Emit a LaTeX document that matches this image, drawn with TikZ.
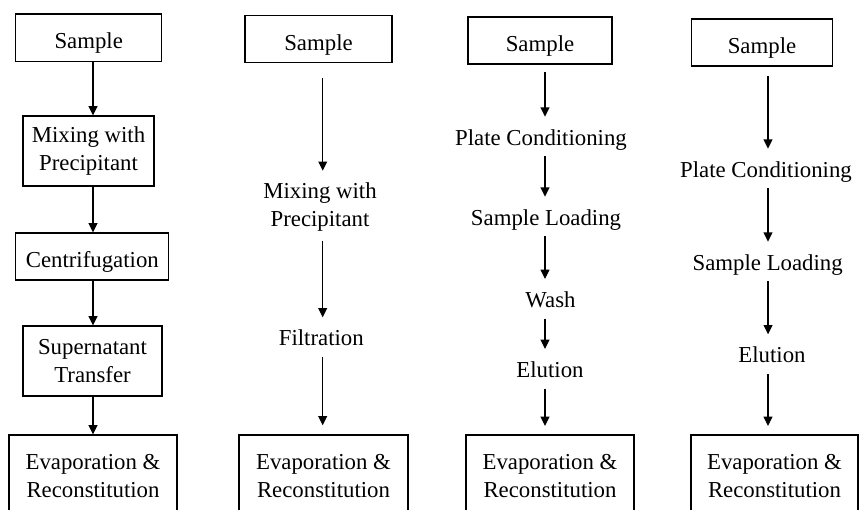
\documentclass[tikz,border=0pt]{standalone}
\usepackage{fontspec}
\setmainfont{Liberation Serif}
\usetikzlibrary{arrows.meta,positioning}

\begin{document}
\begin{tikzpicture}[
  x=0.5pt,y=-0.5pt,
  every node/.style={font=\fontsize{11.4}{13.75}\selectfont},
  proc/.style={rectangle,draw,line width=0.65pt,inner sep=0pt,align=center},
  proc1/.style={proc,text height=12pt,text depth=1pt},
  lbl/.style={inner sep=0pt,anchor=base,text height=14pt,text depth=5.5pt},
  flow/.style={line width=0.6pt,-{Triangle[length=4.6pt,width=4.4pt]}}]

\useasboundingbox (0,0) rectangle (860,509);
\clip (0,0) rectangle (860,509);

% column axes
\coordinate (ax1) at (93,0);
\coordinate (ax2) at (322.7,0);
\coordinate (ax3) at (545,0);
\coordinate (ax4) at (768,0);

% precipitation, centrifuge
\node[proc1,minimum width=73pt,minimum height=23.85pt] (s1) at (88.7,37.9) {Sample};
\node[proc,minimum width=65.5pt,minimum height=35pt] (m1) at (88.5,151) {Mixing with\\Precipitant};
\node[proc1,minimum width=76.5pt,minimum height=23.5pt] (c1) at (92.3,256.5) {Centrifugation};
\node[proc,minimum width=69.5pt,minimum height=35pt] (t1) at (92.5,361) {Supernatant\\Transfer};
\node[proc,minimum width=84pt,minimum height=41pt] (e1) at (93,476) {Evaporation \&\\Reconstitution};
\draw[flow] (s1.south -| ax1) -- (m1.north -| ax1);
\draw[flow] (m1.south -| ax1) -- (c1.north -| ax1);
\draw[flow] (c1.south -| ax1) -- (t1.north -| ax1);
\draw[flow] (t1.south -| ax1) -- (e1.north -| ax1);

% precipitation, filter plate
\node[proc1,minimum width=73.5pt,minimum height=23.3pt] (s2) at (318.5,39) {Sample};
\node[inner sep=0pt,anchor=north,align=center] (m2) at (320,182.7) {Mixing with\\Precipitant};
\node[lbl] (f2) at (321.3,345.7) {Filtration};
\node[proc,minimum width=84.5pt,minimum height=41pt] (e2) at (323.5,476) {Evaporation \&\\Reconstitution};
\draw[flow,shorten <=7.7pt,shorten >=6pt] (s2.south -| ax2) -- (m2.north -| ax2);
\draw[flow,shorten <=4.65pt] (m2.south -| ax2) -- (f2.north -| ax2);
\draw[flow,shorten >=4.5pt] (f2.south -| ax2) -- (e2.north -| ax2);

% solid phase extraction with wash
\node[proc1,minimum width=72pt,minimum height=23.5pt] (s3) at (540,40.5) {Sample};
\node[lbl] (p3) at (541,145) {Plate Conditioning};
\node[lbl] (l3) at (546,225) {Sample Loading};
\node[lbl] (w3) at (550.5,307.3) {Wash};
\node[lbl] (el3) at (550,377.3) {Elution};
\node[proc,minimum width=84pt,minimum height=41pt] (e3) at (550,476) {Evaporation \&\\Reconstitution};
\draw[flow,shorten <=3.85pt] (s3.south -| ax3) -- (p3.north -| ax3);
\draw[flow] (p3.south -| ax3) -- (l3.north -| ax3);
\draw[flow] (l3.south -| ax3) -- (w3.north -| ax3);
\draw[flow] (w3.south -| ax3) -- (el3.north -| ax3);
\draw[flow,shorten >=4.25pt] (el3.south -| ax3) -- (e3.north -| ax3);

% solid phase extraction, no wash
\node[proc1,minimum width=70.5pt,minimum height=23.5pt] (s4) at (762,42.5) {Sample};
\node[lbl] (p4) at (766,177) {Plate Conditioning};
\node[lbl] (l4) at (767.7,270) {Sample Loading};
\node[lbl] (el4) at (772,362.7) {Elution};
\node[proc,minimum width=83.5pt,minimum height=41pt] (e4) at (774.5,476) {Evaporation \&\\Reconstitution};
\draw[flow,shorten <=4.5pt] (s4.south -| ax4) -- (p4.north -| ax4);
\draw[flow] (p4.south -| ax4) -- (l4.north -| ax4);
\draw[flow] (l4.south -| ax4) -- (el4.north -| ax4);
\draw[flow,shorten >=4.25pt] (el4.south -| ax4) -- (e4.north -| ax4);
\end{tikzpicture}
\end{document}
